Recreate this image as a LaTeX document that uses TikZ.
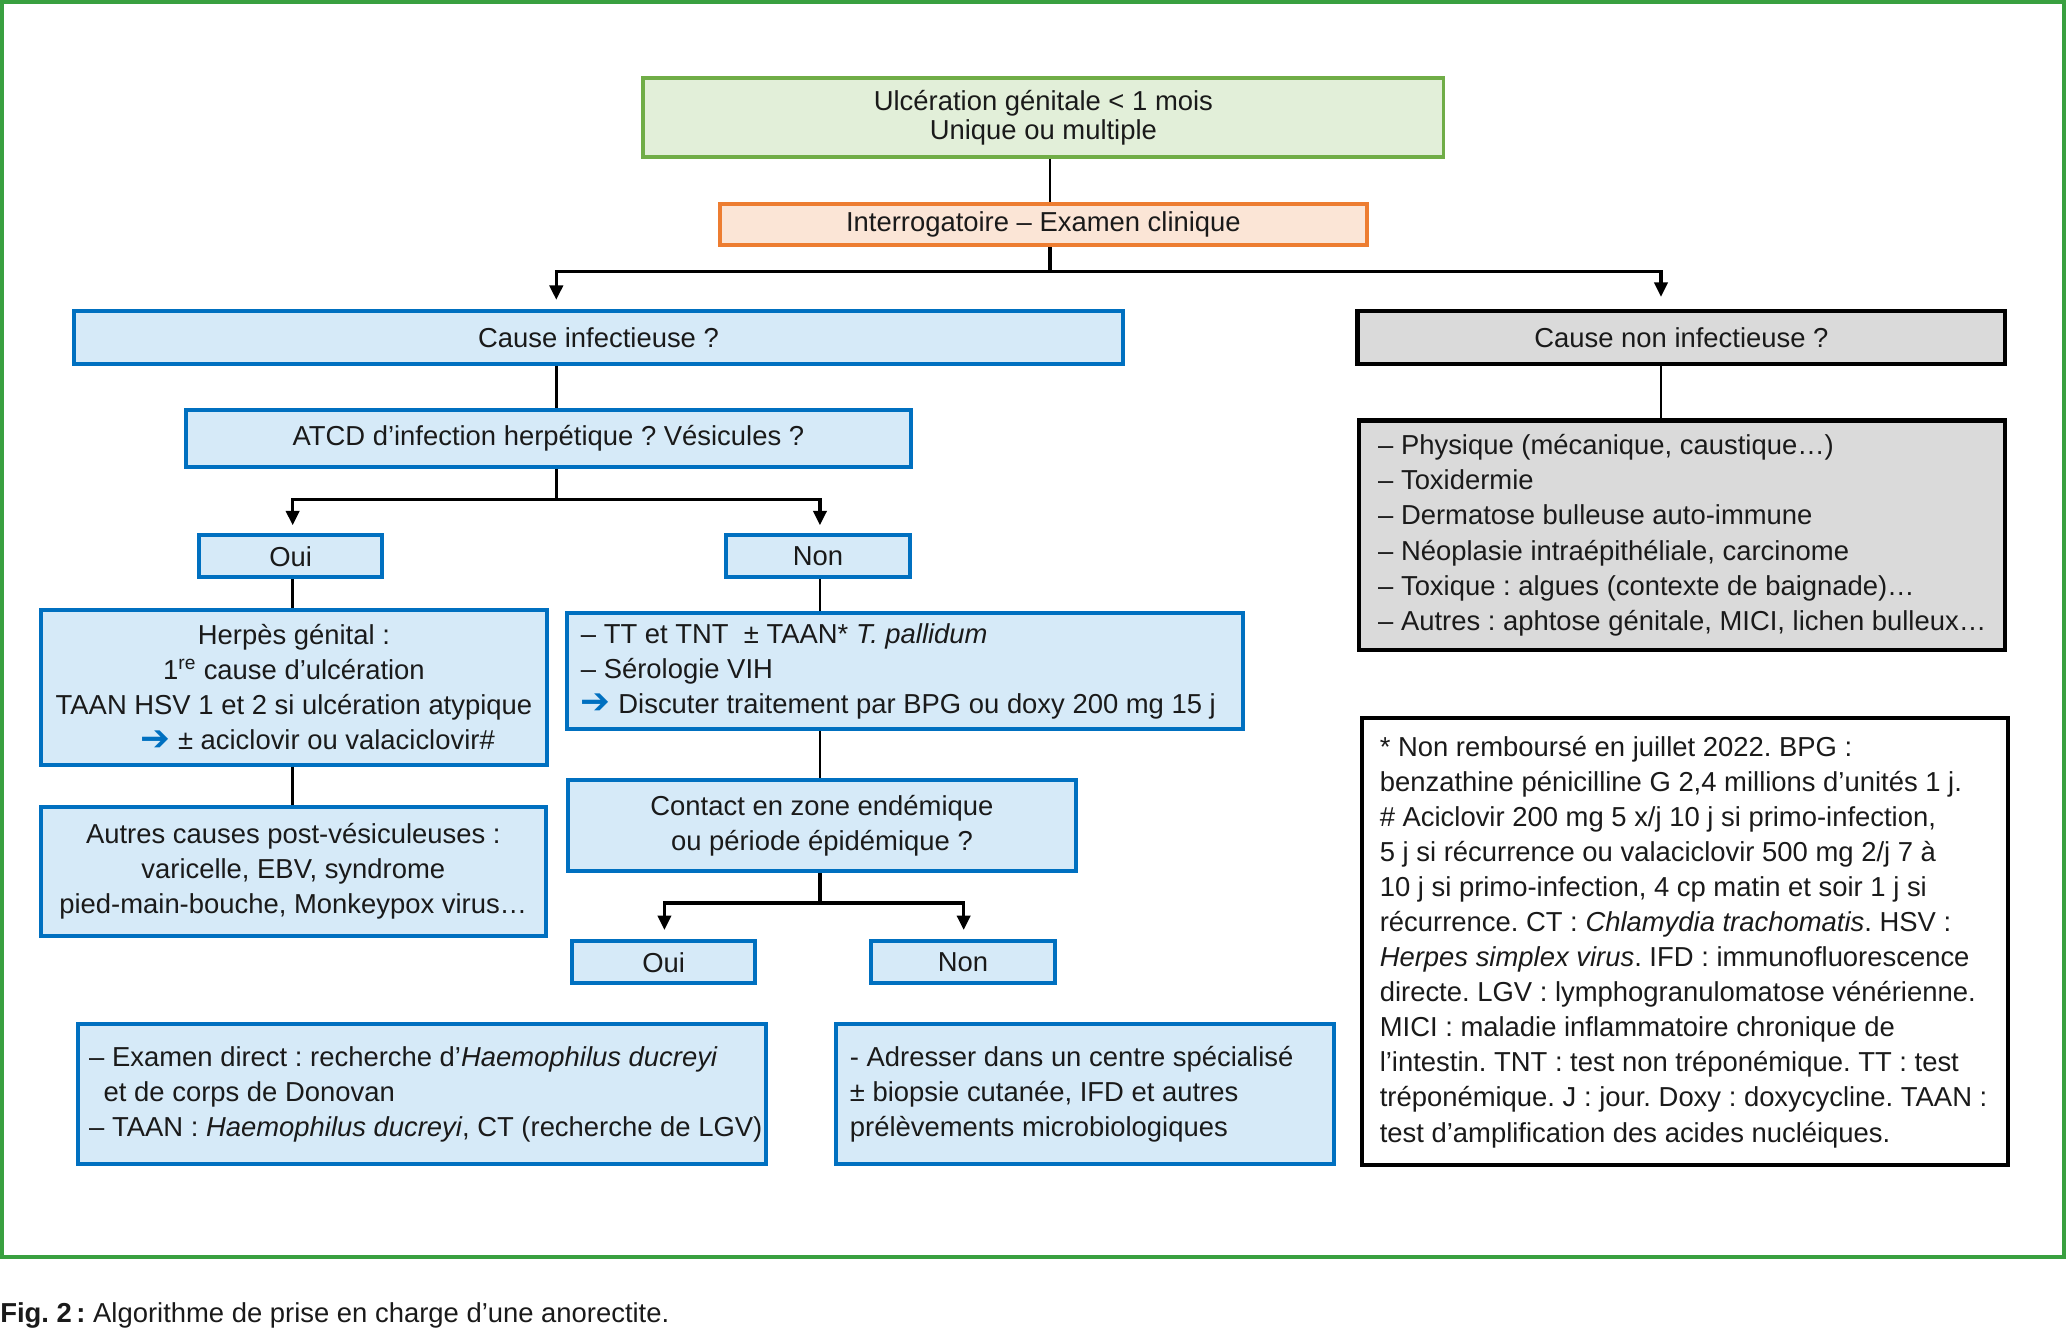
\documentclass[tikz,border=0pt]{standalone}
\usepackage{fontspec}
\setmainfont{Liberation Sans}
\newfontfamily\djv{DejaVu Sans}
\usetikzlibrary{arrows.meta,calc}
\definecolor{frameG}{RGB}{57,160,64}
\definecolor{greenBd}{RGB}{112,173,71}
\definecolor{greenFl}{RGB}{226,239,217}
\definecolor{orangeBd}{RGB}{237,125,49}
\definecolor{orangeFl}{RGB}{251,229,214}
\definecolor{blueBd}{RGB}{0,112,192}
\definecolor{blueFl}{RGB}{214,234,248}
\definecolor{grayFl}{RGB}{218,218,218}
\definecolor{txtC}{RGB}{26,26,26}
\frenchspacing
\newcommand\mysize{\fontsize{20.8}{26.6}\selectfont\frenchspacing}
\newcommand\barr{\raisebox{-0.5pt}{\scalebox{1.3}{\djv\bfseries\color{blueBd}➔}}}
\begin{document}
\begin{tikzpicture}[x=1pt,y=-1pt,
  box/.style={draw, line width=3pt, inner sep=0pt, font=\mysize, text=txtC, align=center},
  greenbox/.style={box, draw=greenBd, fill=greenFl},
  orangebox/.style={box, draw=orangeBd, fill=orangeFl},
  bluebox/.style={box, draw=blueBd, fill=blueFl},
  graybox/.style={box, draw=black, fill=grayFl, line width=3.5pt},
  notebox/.style={box, draw=black, fill=white},
  txt/.style={inner sep=0pt, font=\mysize, text=txtC, align=left, anchor=west},
  stem/.style={line width=2pt, draw=black},
  branch/.style={line width=2.6pt, draw=black},
  arr/.style={-{Triangle[length=11pt,width=10pt]}}
]
\useasboundingbox (0,0) rectangle (1568,1010);
\fill[white] (0,0) rectangle (1568,1010);
\draw[frameG, line width=3pt] (1.5,1.5) rectangle (1566,953.5);

% columns and junctions
\coordinate (cT) at (796.5,0);
\coordinate (cA) at (422,0);
\coordinate (cB) at (222,0);
\coordinate (cC) at (622,0);
\coordinate (cD) at (504,0);
\coordinate (cE) at (731,0);
\coordinate (cR) at (1260,0);
\coordinate (j1) at (796.5,206);
\coordinate (j2) at (422,379);
\coordinate (j3) at (622,685);

% boxes
\node[greenbox, minimum width=607pt, minimum height=60pt,
      font=\fontsize{20.8}{22}\selectfont] (ulc) at (791.5,89)
  {Ulcération génitale < 1 mois\\Unique ou multiple};
\node[orangebox, minimum width=491pt, minimum height=31pt] (interro) at (791.5,170.5)
  {Interrogatoire – Examen clinique};
\node[bluebox, minimum width=796pt, minimum height=40pt] (cinf) at (454,256)
  {Cause infectieuse ?};
\node[graybox, minimum width=491pt, minimum height=40pt] (cnon) at (1275.5,256)
  {Cause non infectieuse ?};
\node[graybox, minimum width=490pt, minimum height=174pt] (nonlist) at (1276,406) {};
\node[txt] (nonlisttxt) at ([xshift=16pt]nonlist.west)
  {– Physique (mécanique, caustique…)\\
   – Toxidermie\\
   – Dermatose bulleuse auto-immune\\
   – Néoplasie intraépithéliale, carcinome\\
   – Toxique : algues (contexte de baignade)…\\
   – Autres : aphtose génitale, MICI, lichen bulleux…};
\node[bluebox, minimum width=550pt, minimum height=43pt] (atcd) at (416,332.5)
  {ATCD d’infection herpétique ? Vésicules ?};
\node[bluebox, minimum width=139pt, minimum height=32pt] (oui1) at (220.5,422) {Oui};
\node[bluebox, minimum width=139pt, minimum height=32pt] (non1) at (620.5,422) {Non};
\node[bluebox, minimum width=384pt, minimum height=117pt] (herpes) at (223,521.5)
  {Herpès génital :\\
   1\textsuperscript{re} cause d’ulcération\\
   TAAN HSV 1 et 2 si ulcération atypique\\
   \hspace*{36pt}\barr\ ± aciclovir ou valaciclovir\#};
\node[bluebox, minimum width=383pt, minimum height=98pt] (autres) at (222.5,661)
  {Autres causes post-vésiculeuses :\\
   varicelle, EBV, syndrome\\
   pied-main-bouche, Monkeypox virus…};
\node[bluebox, minimum width=513pt, minimum height=88pt] (tt) at (686.5,509) {};
\node[txt] (tttxt) at ([xshift=12pt]tt.west)
  {– TT et TNT \ ± TAAN* \textit{T. pallidum}\\
   – Sérologie VIH\\
   \barr\ Discuter traitement par BPG ou doxy 200 mg 15 j};
\node[bluebox, minimum width=385pt, minimum height=69pt] (contact) at (623.5,626.5)
  {Contact en zone endémique\\ou période épidémique ?};
\node[bluebox, minimum width=139pt, minimum height=32pt] (oui2) at (503.5,730) {Oui};
\node[bluebox, minimum width=139pt, minimum height=32pt] (non2) at (730.5,730) {Non};
\node[bluebox, minimum width=522pt, minimum height=106pt] (examen) at (320,830) {};
\node[txt] (examentxt) at ([xshift=10pt]examen.west)
  {– Examen direct : recherche d’\textit{Haemophilus ducreyi}\\
   \hspace*{11pt}et de corps de Donovan\\
   – TAAN : \textit{Haemophilus ducreyi}, CT (recherche de LGV)};
\node[bluebox, minimum width=378pt, minimum height=106pt] (adresser) at (823,830) {};
\node[txt] (adressertxt) at ([xshift=12pt]adresser.west)
  {- Adresser dans un centre spécialisé\\
   ± biopsie cutanée, IFD et autres\\
   prélèvements microbiologiques};
\node[notebox, minimum width=490pt, minimum height=339pt] (foot) at (1278,714.5) {};
\node[txt] (foottxt) at ([xshift=15pt]foot.west)
  {* Non remboursé en juillet 2022. BPG :\\
   benzathine pénicilline G 2,4 millions d’unités 1 j.\\
   \# Aciclovir 200 mg 5 x/j 10 j si primo-infection,\\
   5 j si récurrence ou valaciclovir 500 mg 2/j 7 à\\
   10 j si primo-infection, 4 cp matin et soir 1 j si\\
   récurrence. CT : \textit{Chlamydia trachomatis}. HSV :\\
   \textit{Herpes simplex virus}. IFD : immunofluorescence\\
   directe. LGV : lymphogranulomatose vénérienne.\\
   MICI : maladie inflammatoire chronique de\\
   l’intestin. TNT : test non tréponémique. TT : test\\
   tréponémique. J : jour. Doxy : doxycycline. TAAN :\\
   test d’amplification des acides nucléiques.};

% caption
\node[txt] (cap) at (0,998)
  {\textbf{Fig. 2\,:} Algorithme de prise en charge d’une anorectite.};

% connectors
\draw[stem] (ulc.south -| cT) -- (interro.north -| cT);
\draw[branch] (interro.south -| cT) -- (j1);
\draw[branch,arr] (j1) -| ([yshift=7pt]cinf.north -| cA);
\draw[branch,arr] (j1) -| ([yshift=9pt]cnon.north -| cR);
\draw[stem] (cnon.south -| cR) -- (nonlist.north -| cR);
\draw[stem] (cinf.south -| cA) -- (atcd.north -| cA);
\draw[branch] (atcd.south -| cA) -- (j2);
\draw[branch,arr] (j2) -| ([yshift=6pt]oui1.north -| cB);
\draw[branch,arr] (j2) -| ([yshift=6pt]non1.north -| cC);
\draw[stem] (oui1.south -| cB) -- (herpes.north -| cB);
\draw[stem] (herpes.south -| cB) -- (autres.north -| cB);
\draw[stem] (non1.south -| cC) -- (tt.north -| cC);
\draw[stem] (tt.south -| cC) -- (contact.north -| cC);
\draw[branch] (contact.south -| cC) -- (j3);
\draw[branch,arr] (j3) -| ([yshift=7pt]oui2.north -| cD);
\draw[branch,arr] (j3) -| ([yshift=7pt]non2.north -| cE);
\end{tikzpicture}
\end{document}
